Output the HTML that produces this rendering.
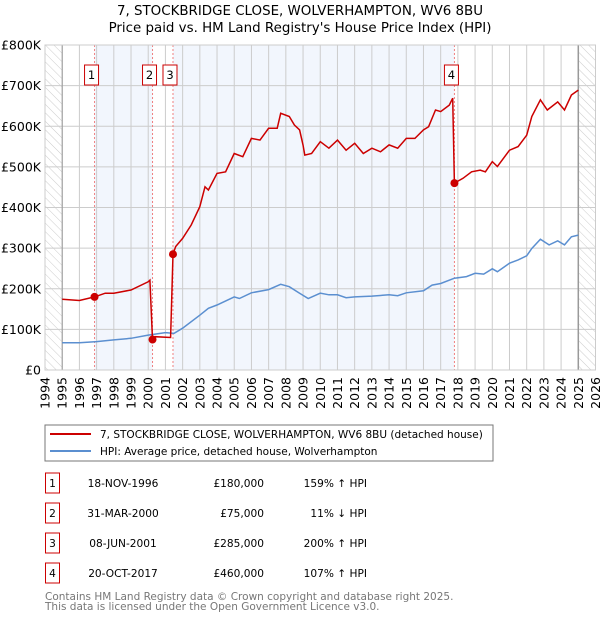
<!DOCTYPE html>
<html><head><meta charset="utf-8"><style>
body{margin:0;background:#fff;font-family:"DejaVu Sans","Liberation Sans",sans-serif;}
svg text{font-family:"DejaVu Sans","Liberation Sans",sans-serif;}
</style></head><body>
<svg id="c" width="600" height="620" xmlns="http://www.w3.org/2000/svg">
<defs><pattern id="hatch" width="6" height="6" patternUnits="userSpaceOnUse" patternTransform="rotate(-45)"><line x1="0" y1="0" x2="0" y2="6" stroke="#ccc" stroke-width="1"/></pattern></defs>
<text x="300" y="15" text-anchor="middle" font-size="13.4">7, STOCKBRIDGE CLOSE, WOLVERHAMPTON, WV6 8BU</text>
<text x="300" y="32" text-anchor="middle" font-size="13.4">Price paid vs. HM Land Registry's House Price Index (HPI)</text>
<g id="plot"></g>
<rect x="45" y="425" width="448" height="36" fill="#fff" stroke="#777"/>
<line x1="50" y1="434" x2="91" y2="434" stroke="#cc0000" stroke-width="2"/>
<text x="100" y="438" font-size="10.5">7, STOCKBRIDGE CLOSE, WOLVERHAMPTON, WV6 8BU (detached house)</text>
<line x1="50" y1="451" x2="91" y2="451" stroke="#5b8fd0" stroke-width="2"/>
<text x="100" y="455" font-size="10.5">HPI: Average price, detached house, Wolverhampton</text>
<g id="tbl" font-size="10.6"></g>
<text x="45" y="600" font-size="10.5" fill="#777">Contains HM Land Registry data © Crown copyright and database right 2025.</text>
<text x="45" y="610" font-size="10.5" fill="#777">This data is licensed under the Open Government Licence v3.0.</text>
</svg>
<script>
const hpiYears=[1995,1996,1997,1998,1999,2000,2001,2001.5,2002,2003,2003.5,2004,2005,2005.3,2006,2007,2007.7,2008.2,2008.8,2009.3,2010,2010.5,2011,2011.5,2012,2013,2014,2014.5,2015,2016,2016.5,2017,2017.8,2018.5,2019,2019.5,2020,2020.3,2021,2021.5,2022,2022.3,2022.8,2023.3,2023.8,2024.2,2024.6,2025];
const hpiValues=[67,67,70,74,78,86,92,90,103,135,152,160,180,176,190,198,211,205,189,176,189,185,185,178,180,182,185,183,190,195,209,213,226,230,238,236,249,242,263,271,281,299,322,308,318,308,328,332];
const propYears=[1995,1996,1996.88,1997.5,1998,1999,2000,2000.1,2000.25,2000.4,2001.3,2001.44,2001.6,2002,2002.5,2003,2003.3,2003.5,2004,2004.5,2005,2005.5,2006,2006.5,2007,2007.5,2007.7,2008.2,2008.5,2008.8,2009,2009.1,2009.5,2010,2010.5,2011,2011.5,2012,2012.5,2013,2013.5,2014,2014.5,2015,2015.5,2016,2016.3,2016.7,2017,2017.5,2017.7,2017.8,2018.3,2018.8,2019.3,2019.6,2020,2020.3,2021,2021.5,2022,2022.3,2022.8,2023.2,2023.8,2024.2,2024.6,2025];
const propValues=[174,171,180,189,189,197,217,221,75,82,80,285,304,324,357,402,451,443,484,488,533,525,570,566,595,595,632,624,603,591,554,529,533,562,546,566,541,558,533,546,537,554,546,570,570,591,599,640,636,652,669,460,472,488,492,488,513,501,541,550,578,624,665,640,660,640,677,689];
const saleLabels=["1","2","3","4"];
const saleYears=[1996.88,2000.25,2001.44,2017.8];
const saleValues=[180,75,285,460];
const saleDates=["18-NOV-1996","31-MAR-2000","08-JUN-2001","20-OCT-2017"];
const salePrices=["£180,000","£75,000","£285,000","£460,000"];
const saleHpi=["159% ↑ HPI","11% ↓ HPI","200% ↑ HPI","107% ↑ HPI"];
const yTicks=[0,100,200,300,400,500,600,700,800];
const yTickLabels=["£0","£100K","£200K","£300K","£400K","£500K","£600K","£700K","£800K"];
const xTicks=[];for(let y=1994;y<=2026;y++)xTicks.push(y);

const NS="http://www.w3.org/2000/svg";
const X0=45,X1=595.5,Y0=370,Y1=45;
const xs=y=>X0+(y-1994)*(X1-X0)/32;
const ys=v=>Y0-v*(Y0-Y1)/800;
const g=document.getElementById('plot');
function el(t,a,p){const e=document.createElementNS(NS,t);for(const k in a)e.setAttribute(k,a[k]);(p||g).appendChild(e);return e;}
let e;
e=el('rect',{x:X0,y:Y1,width:xs(1995)-X0,height:Y0-Y1,fill:'url(#hatch)'});


e=el('rect',{x:xs(2025),y:Y1,width:X1-xs(2025),height:Y0-Y1,fill:'url(#hatch)'});


[[0,1],[2,3]].forEach(([a,b])=>{
 const r=el('rect',{x:xs(saleYears[a]),y:Y1,width:xs(saleYears[b])-xs(saleYears[a]),height:Y0-Y1,fill:'#f2f6fd'});
 
 
});
xTicks.forEach((t,i)=>{
 const l=el('line',{x1:xs(t),x2:xs(t),y1:Y1,y2:Y0,stroke:'#ccc','stroke-width':1});
 
 
 const tx=el('text',{x:0,y:0,'font-size':12.5,'text-anchor':'end',transform:`translate(${xs(t)+4.5},${Y0+7}) rotate(-90)`});
 tx.textContent=t;
 
 
});
yTicks.forEach((t,i)=>{
 const l=el('line',{x1:X0,x2:X1,y1:ys(t),y2:ys(t),stroke:'#ccc','stroke-width':1});
 
 
 const tx=el('text',{x:X0-4,y:ys(t)+4.5,'font-size':12.5,'text-anchor':'end'});
 tx.textContent=yTickLabels[i];
 
 
});
e=el('line',{x1:xs(1995),x2:xs(1995),y1:Y1,y2:Y0,stroke:'#999','stroke-width':1});


e=el('line',{x1:xs(2025),x2:xs(2025),y1:Y1,y2:Y0,stroke:'#999','stroke-width':1.5});


saleYears.forEach((s,i)=>{
 const l=el('line',{x1:xs(s),x2:xs(s),y1:Y1,y2:Y0,stroke:'#f08080','stroke-width':1,'stroke-dasharray':'2,2'});
 
 
});
function pts(xa,va){return xa.map((x,i)=>xs(x).toFixed(1)+','+ys(va[i]).toFixed(1)).join(' ');}
e=el('polyline',{points:pts(hpiYears,hpiValues),fill:'none',stroke:'#5b8fd0','stroke-width':1.5});


e=el('polyline',{points:pts(propYears,propValues),fill:'none',stroke:'#cc0000','stroke-width':1.5});


saleYears.forEach((s,i)=>{
 const c=el('circle',{cx:xs(s),cy:ys(saleValues[i]),r:4,fill:'#cc0000'});
 
 
 const lx=xs(s)-10;
 const r=el('rect',{x:lx,y:65,width:14,height:20,fill:'#fff',stroke:'#cc0000','stroke-width':1});
 
 
 const t=el('text',{x:lx+7,y:79,'font-size':11.5,'text-anchor':'middle'});
 t.textContent=saleLabels[i];
 
 
});
e=el('rect',{x:X0,y:Y1,width:X1-X0,height:Y0-Y1,fill:'none',stroke:'#ccc'});


const tb=document.getElementById('tbl');
saleLabels.forEach((lab,i)=>{
 const cy=483+i*30;
 const r=el('rect',{x:45.5,y:cy-10,width:14,height:20,fill:'#fff',stroke:'#cc0000'},tb);
 
 
 const cols=[[52.5,'middle',lab],[123,'middle',saleDates[i]],[264,'end',salePrices[i]],[367,'end',saleHpi[i]]];
 cols.forEach(([x,a,s],j)=>{
  const t=el('text',{x:x,y:cy+4,'text-anchor':a},tb);
  t.textContent=s;
  
  
 });
});
</script>
</body></html>
